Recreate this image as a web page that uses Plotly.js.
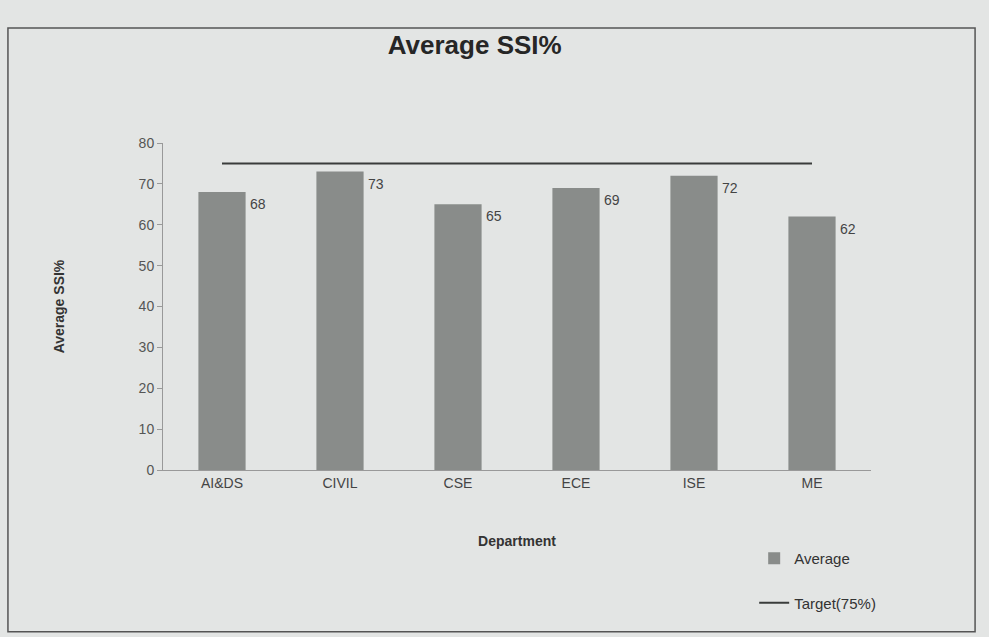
<!DOCTYPE html>
<html><head><meta charset="utf-8">
<script src="https://cdn.plot.ly/plotly-3.0.1.min.js"></script>
<style>html,body{margin:0;padding:0;background:#e3e5e4;}#chart{width:989px;height:637px;}</style>
</head><body><div id="chart"></div>
<script>
const departments = ["AI&DS", "CIVIL", "CSE", "ECE", "ISE", "ME"];
const averages = [68, 73, 65, 69, 72, 62];
const targetValues = [75, 75, 75, 75, 75, 75];
const yTicks = [0, 10, 20, 30, 40, 50, 60, 70, 80];

const font = "Liberation Sans, Arial, sans-serif";
const traces = [
  {type: "bar", x: departments, y: averages, name: "Average",
   marker: {color: "#898c8a"}, width: 0.4, legendgroup: "a"},
  {type: "scatter", mode: "lines", x: departments, y: targetValues, name: "Target(75%)",
   line: {color: "#3a3c3b", width: 2}, legendgroup: "b"}
];
const annotations = departments.map((d, i) => ({
  x: d, y: averages[i], xref: "x", yref: "y", text: String(averages[i]),
  showarrow: false, xanchor: "left", yanchor: "top", xshift: 26, yshift: -2,
  font: {family: font, size: 14, color: "#444"}
}));
const layout = {
  width: 989, height: 637,
  paper_bgcolor: "#e3e5e4", plot_bgcolor: "#e3e5e4",
  margin: {l: 163, r: 118, t: 143, b: 167},
  title: {text: "<b>Average SSI%</b>", x: 0.48, xanchor: "center", y: 0.93, yanchor: "middle",
          font: {family: font, size: 26, color: "#262626"}},
  xaxis: {type: "category", range: [-0.5, 5.5], showline: true, linecolor: "#999", linewidth: 1,
          ticks: "", tickfont: {family: font, size: 14, color: "#444"},
          title: {text: "<b>Department</b>", font: {family: font, size: 14, color: "#333"}, standoff: 46}},
  yaxis: {range: [0, 80], tickvals: yTicks, showline: true, linecolor: "#999", linewidth: 1,
          ticks: "outside", ticklen: 5, tickcolor: "#999", showgrid: false, zeroline: false,
          tickfont: {family: font, size: 14, color: "#555"},
          title: {text: "<b>Average SSI%</b>", font: {family: font, size: 14, color: "#333"}, standoff: 70}},
  showlegend: true,
  legend: {x: 0.835, y: -0.22, xanchor: "left", yanchor: "top", bgcolor: "rgba(0,0,0,0)",
           traceorder: "grouped", tracegroupgap: 22,
           font: {family: font, size: 15, color: "#333"}},
  bargap: 0.6,
  annotations: annotations,
  shapes: [{type: "rect", xref: "paper", yref: "paper", x0: -0.219, x1: 1.147, y0: -0.495, y1: 1.352,
            line: {color: "#555", width: 1.5}, fillcolor: "rgba(0,0,0,0)"}]
};
Plotly.newPlot("chart", traces, layout, {displayModeBar: false, staticPlot: true});
</script></body></html>
